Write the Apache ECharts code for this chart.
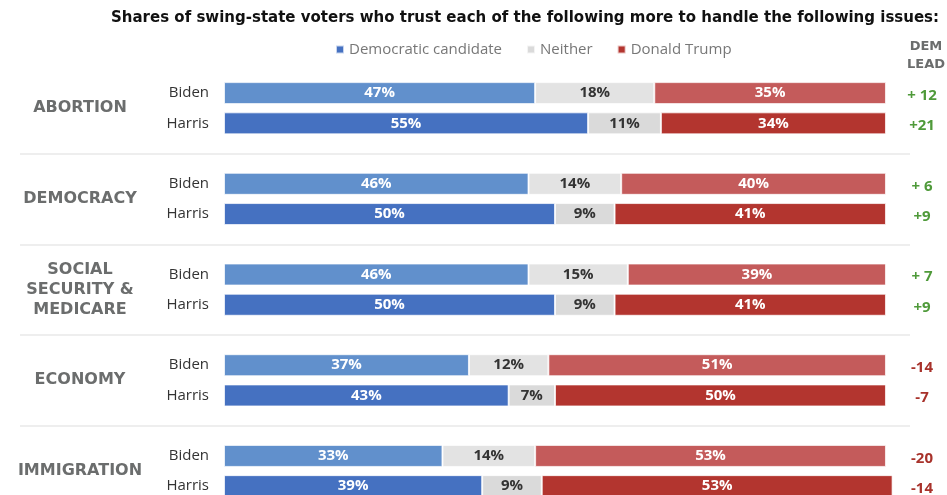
<!DOCTYPE html>
<html>
<head>
<meta charset="utf-8">
<script src="https://cdn.jsdelivr.net/npm/echarts@6/dist/echarts.min.js"></script>
<style>html,body{margin:0;padding:0;background:#fff;}#c{width:947px;height:495px;}</style>
</head>
<body>
<div id="c"></div>
<script>
const titleText = 'Shares of swing-state voters who trust each of the following more to handle the following issues:';
const issues = ['ABORTION', 'DEMOCRACY', 'SOCIAL\nSECURITY &\nMEDICARE', 'ECONOMY', 'IMMIGRATION'];
const candidates = ['Biden', 'Harris'];
const seriesNames = ['Democratic candidate', 'Neither', 'Donald Trump'];
const demBiden = [47, 46, 46, 37, 33];
const demHarris = [55, 50, 50, 43, 39];
const neitherBiden = [18, 14, 15, 12, 14];
const neitherHarris = [11, 9, 9, 7, 9];
const trumpBiden = [35, 40, 39, 51, 53];
const trumpHarris = [34, 41, 41, 50, 53];
const leadBiden = ['+ 12', '+ 6', '+ 7', '-14', '-20'];
const leadHarris = ['+21', '+9', '+9', '-7', '-14'];

const colors = {
  demBiden: '#6190cc', demHarris: '#4571c1',
  neitherBiden: '#e3e3e3', neitherHarris: '#dadada',
  trumpBiden: '#c45b5b', trumpHarris: '#b3352f'
};

// Rows per issue: Biden, Harris, separator
const rowIds = [], rowNames = [], leadNames = [];
issues.forEach((iss, i) => {
  rowIds.push(i + '-b', i + '-h', i + '-s');
  rowNames.push(candidates[0], candidates[1], '');
  leadNames.push(leadBiden[i], leadHarris[i], '');
});
// Group-label axis: points on the boundaries between rows (boundaryGap false)
const groupIds = [], groupNames = [];
for (let k = 0; k <= rowIds.length; k++) {
  groupIds.push('g' + k);
  groupNames.push(k % 3 === 1 ? issues[(k - 1) / 3] : '');
}

function build(bArr, hArr, cb, ch) {
  const out = [];
  issues.forEach((_, i) => {
    out.push({ value: bArr[i], itemStyle: { color: cb } });
    out.push({ value: hArr[i], itemStyle: { color: ch } });
    out.push('-');
  });
  return out;
}

const sepRows = [];
rowIds.forEach((id, i) => { if (i % 3 === 2 && i < rowIds.length - 1) sepRows.push({ yAxis: i }); });

const FONT = 'Open Sans';
const barLabel = (col) => ({
  show: true, position: 'inside', formatter: '{c}%', color: col,
  fontFamily: FONT, fontWeight: 'bold', fontSize: 15
});
const itemBorder = { borderColor: 'rgba(255,255,255,0.7)', borderWidth: 1 };

const chart = echarts.init(document.getElementById('c'), null, { renderer: 'canvas' });
chart.setOption({
  animation: false,
  backgroundColor: '#fff',
  title: {
    text: titleText, left: 106, top: 6,
    textStyle: { fontFamily: 'DejaVu Sans', fontSize: 15, fontWeight: 'bold', color: '#111' }
  },
  graphic: [{
    type: 'text', x: 926, y: 38,
    style: { text: 'DEM\nLEAD', fill: '#6b6d6d', font: 'bold 13px "DejaVu Sans"', lineHeight: 18, align: 'center', verticalAlign: 'top' }
  }],
  legend: {
    data: seriesNames, left: 330, top: 37, icon: 'rect', itemWidth: 8, itemHeight: 8, itemGap: 24,
    textStyle: { fontFamily: FONT, fontSize: 15, color: '#777' }
  },
  grid: { left: 20, right: 37, top: 78, height: 453.5, outerBoundsMode: 'none', containLabel: false },
  xAxis: { type: 'value', min: -30.82, max: 103.63, show: false },
  yAxis: [
    {
      type: 'category', data: rowIds, inverse: true, position: 'left',
      axisLine: { show: false }, axisTick: { show: false },
      axisLabel: {
        interval: 0, margin: -189, formatter: (v, i) => rowNames[i],
        fontFamily: FONT, fontSize: 15, color: '#333'
      }
    },
    {
      type: 'category', data: groupIds, inverse: true, position: 'left', boundaryGap: false,
      axisLine: { show: false }, axisTick: { show: false },
      axisLabel: {
        interval: 0, margin: -60, align: 'center',
        formatter: (v, i) => groupNames[i], lineHeight: 20,
        fontFamily: 'DejaVu Sans', fontWeight: 'bold', fontSize: 16, color: '#6b6d6d'
      }
    },
    {
      type: 'category', data: rowIds, inverse: true, position: 'right',
      axisLine: { show: false }, axisTick: { show: false },
      axisLabel: {
        interval: 0, margin: 12, align: 'center',
        formatter: (v, i) => {
          const t = leadNames[i];
          if (!t) return '';
          return (t.charAt(0) === '-' ? '{n|' : '{p|') + t + '}';
        },
        rich: {
          p: { color: '#4f9a3a', fontFamily: FONT, fontWeight: 'bold', fontSize: 15, padding: [5, 0, 0, 0] },
          n: { color: '#a8322b', fontFamily: FONT, fontWeight: 'bold', fontSize: 15, padding: [5, 0, 0, 0] }
        }
      }
    }
  ],
  series: [
    {
      name: seriesNames[0], type: 'bar', stack: 'all', barWidth: 22, yAxisIndex: 0,
      itemStyle: Object.assign({ color: colors.demHarris }, itemBorder),
      label: barLabel('#fff'),
      data: build(demBiden, demHarris, colors.demBiden, colors.demHarris),
      markLine: {
        silent: true, symbol: 'none', label: { show: false },
        lineStyle: { color: '#e8e8e8', width: 1.5, type: 'solid' },
        data: sepRows
      }
    },
    {
      name: seriesNames[1], type: 'bar', stack: 'all', barWidth: 22, yAxisIndex: 0,
      itemStyle: Object.assign({ color: colors.neitherHarris }, itemBorder),
      label: barLabel('#333'),
      data: build(neitherBiden, neitherHarris, colors.neitherBiden, colors.neitherHarris)
    },
    {
      name: seriesNames[2], type: 'bar', stack: 'all', barWidth: 22, yAxisIndex: 0,
      itemStyle: Object.assign({ color: colors.trumpHarris }, itemBorder),
      label: barLabel('#fff'),
      data: build(trumpBiden, trumpHarris, colors.trumpBiden, colors.trumpHarris)
    }
  ]
});
</script>
</body>
</html>
